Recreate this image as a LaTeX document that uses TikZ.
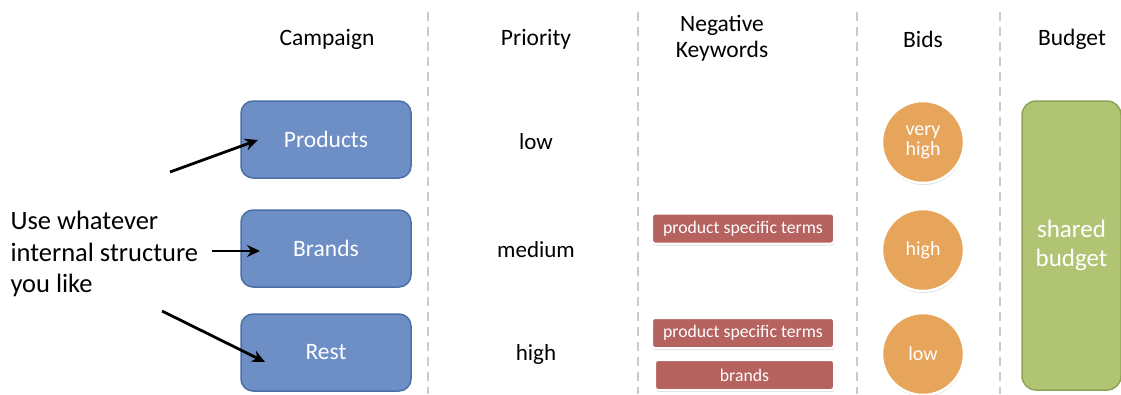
\documentclass[tikz,border=0pt]{standalone}
\usepackage{fontspec}
\setmainfont{Carlito}
\usetikzlibrary{arrows.meta,shadows}
\definecolor{campblue}{HTML}{6D8FC6}
\definecolor{campedge}{HTML}{4B6FA6}
\definecolor{kwred}{HTML}{B6625F}
\definecolor{bidorange}{HTML}{E7A55B}
\definecolor{budgreen}{HTML}{B1C474}
\definecolor{budedge}{HTML}{8DA553}
\definecolor{divgray}{HTML}{CBCBCB}
\tikzset{
  header/.style={font=\fontsize{23.5}{26}\selectfont, align=center, text=black},
  campbox/.style={draw=campedge, line width=1.5pt, fill=campblue, rounded corners=12pt,
    minimum width=170pt, minimum height=77pt, text=white, font=\fontsize{23.5}{26}\selectfont},
  prio/.style={font=\fontsize{23}{26}\selectfont, text=black},
  kwbox/.style={draw=white, line width=2pt, fill=kwred, rounded corners=3pt,
    minimum width=182pt, minimum height=30pt, text=white, font=\fontsize{17.7}{20}\selectfont,
    drop shadow={opacity=0.25, shadow xshift=0.5pt, shadow yshift=-2pt}},
  bid/.style={circle, draw=white, line width=2.5pt, fill=bidorange, minimum size=82pt,
    text=white, align=center, font=\fontsize{20}{22}\selectfont,
    drop shadow={opacity=0.25, shadow xshift=0.5pt, shadow yshift=-2pt}},
  budbox/.style={draw=budedge, line width=1.5pt, fill=budgreen, rounded corners=14pt,
    minimum width=99pt, minimum height=289pt, text=white, align=center,
    font=\fontsize{25}{29}\selectfont},
  divider/.style={draw=divgray, line width=2.5pt, dash pattern=on 9pt off 6pt},
  pointer/.style={draw=black, line width=2.8pt, -{Stealth[length=13pt,width=12pt]}},
}
\begin{document}
\begin{tikzpicture}[x=1pt,y=-1pt]
\useasboundingbox (0,0) rectangle (1121,394);
% dividers
\coordinate (d1t) at (428,12); \coordinate (d1b) at (428,394);
\coordinate (d2t) at (638,12); \coordinate (d2b) at (638,394);
\coordinate (d3t) at (857,12); \coordinate (d3b) at (857,394);
\coordinate (d4t) at (1000,12); \coordinate (d4b) at (1000,394);
\draw[divider] (d1t) -- (d1b);
\draw[divider] (d2t) -- (d2b);
\draw[divider] (d3t) -- (d3b);
\draw[divider] (d4t) -- (d4b);
% headers
\node[header] (hcamp) at (327,39) {Campaign};
\node[header] (hprio) at (536,39) {Priority};
\node[header] (hneg) at (722,38) {Negative\\Keywords};
\node[header] (hbids) at (923,39) {Bids};
\node[header] (hbud) at (1072,39) {Budget};
% campaigns
\node[campbox] (products) at (326,139.5) {Products};
\node[campbox] (brands) at (326,248.5) {Brands};
\node[campbox] (rest) at (326,352.5) {Rest};
% priority
\node[prio] (plow) at (536,142) {low};
\node[prio] (pmed) at (536,250) {medium};
\node[prio] (phigh) at (536,354) {high};
% negative keywords
\node[kwbox] (kw1) at (743,228.5) {product specific terms};
\node[kwbox] (kw2) at (743,333) {product specific terms};
\node[kwbox, minimum width=179pt] (kw3) at (744.5,375) {brands};
% bids
\node[bid] (b1) at (923,142) {very\\[-2pt]high};
\node[bid] (b2) at (923,250) {high};
\node[bid] (b3) at (923,354) {low};
% budget
\node[budbox] (budget) at (1071.5,245.5) {shared\\budget};
% left text and arrows
\node[anchor=west, align=left, font=\fontsize{26.5}{31.5}\selectfont, text=black] (note) at (7,254)
  {Use whatever\\internal structure\\you like};
\coordinate (a1s) at (170,172);
\coordinate (a2s) at (212,251);
\coordinate (a3s) at (162,311);
\draw[pointer] (a1s) -- (258,140);
\draw[pointer] (a2s) -- (260,251);
\draw[pointer] (a3s) -- (265,362);
\end{tikzpicture}
\end{document}
